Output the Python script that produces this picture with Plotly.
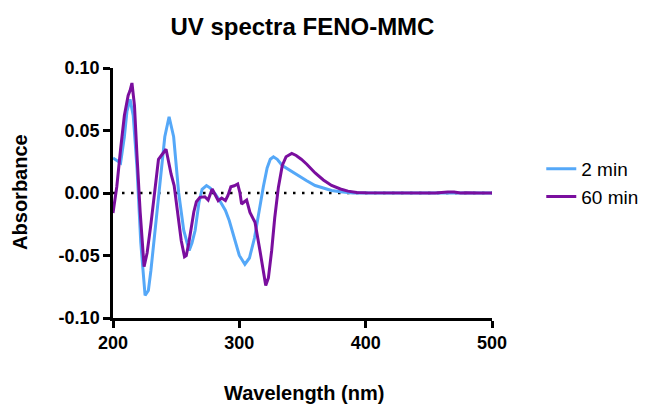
import plotly.graph_objects as go

# ---- data ----
wl_2min = [200, 203, 206, 209, 211, 213.5, 216, 219, 222, 225.4, 228, 230, 234, 238, 241,
           244.4, 248, 252, 256, 260.3, 262.5, 265, 268, 270.5, 274, 277, 281, 285, 289,
           292, 296.5, 300, 304.4, 308, 312, 316, 319, 322, 324.5, 327, 330, 334, 340,
           346, 353, 360, 366, 373, 380, 390, 400, 420, 440, 460, 480, 500]
abs_2min = [0.028, 0.026, 0.024, 0.045, 0.065, 0.075, 0.062, 0.020, -0.040, -0.082, -0.078,
            -0.062, -0.025, 0.012, 0.045, 0.061, 0.045, 0.000, -0.030, -0.046, -0.040,
            -0.030, -0.008, 0.003, 0.006, 0.004, -0.001, -0.007, -0.014, -0.022, -0.038,
            -0.050, -0.057, -0.052, -0.036, -0.012, 0.005, 0.020, 0.027, 0.029, 0.027,
            0.022, 0.018, 0.014, 0.010, 0.006, 0.004, 0.002, 0.001, 0.0, 0.0, 0.0, 0.0,
            0.0, 0.0, 0.0]

wl_60min = [200, 203, 206, 209, 212, 213.5, 215, 217, 219, 221.5, 224.6, 227, 230, 233, 236,
            239, 242, 244, 246, 248.4, 251, 254, 256.6, 258, 260, 262, 264, 266, 268.8,
            272.7, 275.3, 278.5, 281, 283.3, 286, 289, 291, 293.3, 296, 298.7, 300.5,
            301.8, 304, 305.8, 308.4, 312.4, 316.3, 320.9, 323, 325.6, 328, 330.9, 334,
            337, 341.5, 345, 349, 353.4, 360, 366.5, 373, 380, 386, 393, 400, 420, 440,
            455, 465, 470, 475, 480, 490, 500]
abs_60min = [-0.016, 0.005, 0.035, 0.062, 0.078, 0.082, 0.088, 0.070, 0.030, -0.015, -0.059,
             -0.048, -0.025, 0.000, 0.027, 0.031, 0.035, 0.025, 0.015, 0.006, -0.015,
             -0.038, -0.051, -0.050, -0.040, -0.028, -0.015, -0.007, -0.0035, -0.003,
             -0.0056, 0.0032, -0.002, -0.0061, -0.004, -0.006, -0.002, 0.005, 0.0058,
             0.0072, 0.000, -0.0088, -0.007, -0.0056, -0.0155, -0.0234, -0.046, -0.0739,
             -0.068, -0.046, -0.020, 0.0045, 0.022, 0.029, 0.0316, 0.030, 0.027, 0.023,
             0.016, 0.0104, 0.006, 0.0032, 0.0015, 0.0005, 0.0002, 0.0, 0.0002, 0.0,
             0.0008, 0.0008, 0.0, 0.0003, 0.0, 0.0]

series_names = ["2 min", "60 min"]
series_colors = ["#55A8F8", "#7A0E9E"]

x_ticks = [200, 300, 400, 500]
y_ticks = [-0.10, -0.05, 0.00, 0.05, 0.10]
y_ticklabels = ["-0.10", "-0.05", "0.00", "0.05", "0.10"]

FONT = "Liberation Sans, Arial, sans-serif"

fig = go.Figure()
for wl, ab, name, col in zip([wl_2min, wl_60min], [abs_2min, abs_60min], series_names, series_colors):
    fig.add_trace(go.Scatter(x=wl, y=ab, mode="lines", name=name,
                             line=dict(color=col, width=3)))

# dotted zero reference line beneath the curves
fig.add_shape(type="line", xref="paper", yref="y", x0=0, x1=1, y0=0, y1=0,
              line=dict(color="black", width=2.5, dash="2.5px,6.5px"), layer="below")

fig.update_layout(
    width=649, height=405,
    margin=dict(l=113, r=157, t=68, b=87, autoexpand=False),
    paper_bgcolor="white", plot_bgcolor="white",
    title=dict(text="<b>UV spectra FENO-MMC</b>", x=0.466, xanchor="center",
               y=0.935, yanchor="middle", font=dict(family=FONT, size=24, color="black")),
    showlegend=True,
    legend=dict(x=1.13, xanchor="left", y=0.54, yanchor="middle",
                font=dict(family=FONT, size=19, color="black"),
                bgcolor="rgba(0,0,0,0)", borderwidth=0),
    xaxis=dict(range=[200, 500], tickvals=x_ticks, ticktext=["<b>%d</b>" % v for v in x_ticks],
               showline=True, linecolor="black", linewidth=2.5, showgrid=False, zeroline=False,
               ticks="outside", ticklen=7, tickwidth=2.5, tickcolor="black",
               tickfont=dict(family=FONT, size=18, color="black")),
    yaxis=dict(range=[-0.10, 0.10], tickvals=y_ticks, ticktext=["<b>%s</b>" % t for t in y_ticklabels],
               showline=True, linecolor="black", linewidth=2.5, showgrid=False, zeroline=False,
               ticks="outside", ticklen=7, tickwidth=2.5, tickcolor="black",
               tickfont=dict(family=FONT, size=18, color="black")),
    annotations=[
        dict(text="<b>Wavelength (nm)</b>", xref="paper", yref="paper", x=0.505, y=-0.298,
             xanchor="center", yanchor="middle", showarrow=False,
             font=dict(family=FONT, size=20, color="black")),
        dict(text="<b>Absorbance</b>", xref="paper", yref="paper", x=-0.245, y=0.505,
             xanchor="center", yanchor="middle", textangle=-90, showarrow=False,
             font=dict(family=FONT, size=20, color="black")),
    ],
)

fig.write_html("out.html", config={"displayModeBar": False},
               post_script="document.body.style.margin='0';document.body.style.overflow='hidden';")
